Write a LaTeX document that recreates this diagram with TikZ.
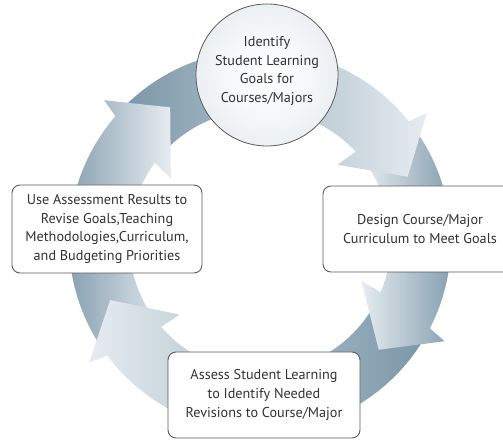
\documentclass[tikz,border=0pt]{standalone}
\usepackage{fontspec}
\setmainfont{PT Sans}
\definecolor{ringdark}{RGB}{122,150,167}
\definecolor{ringlight}{RGB}{230,236,241}
\definecolor{boxline}{RGB}{90,90,90}
\definecolor{txt}{RGB}{50,50,50}
\definecolor{circout}{RGB}{205,217,226}
\pgfdeclareradialshading{circshade}{\pgfpoint{0bp}{0bp}}{color(0bp)=(white); color(18bp)=(white!75!circout); color(50bp)=(circout)}
\tikzset{
  ringarrow/.style n args={3}{insert path={
    (#1:191pt) arc[start angle=#1, end angle={#3-2.2}, radius=191pt]
    -- ({#3-3.5}:210pt) -- ({#3-17.5}:161pt) -- ({#3+3.5}:109pt)
    -- ({#3+2}:131pt) arc[start angle={#3+2}, end angle=#2, radius=131pt] -- cycle}},
  ringhead/.style={insert path={({#1-3.5}:210pt) -- ({#1-17.5}:161pt) -- ({#1+3.5}:109pt) -- cycle}},
  darkleft/.style={left color=ringdark, right color=ringlight},
  darkright/.style={left color=ringlight, right color=ringdark}
}
\begin{document}
\begin{tikzpicture}[x=1pt,y=1pt,
  stagebox/.style={draw=boxline, line width=0.9pt, fill=white, rounded corners=8pt,
    align=center, text=txt, inner sep=0pt, font=\fontsize{14.2}{18.7}\selectfont},
  stagetext/.style={align=center, text=txt, inner sep=0pt, font=\fontsize{14.2}{18.7}\selectfont}]
\useasboundingbox (0,0) rectangle (503,439);
\begin{scope}[shift={(260pt,198pt)}]
  \shade[darkleft, ringarrow={136.4}{139.4}{41}];
  \shade[darkleft, ringarrow={-146}{-143}{-218.6}];
  \shade[darkright, ringarrow={-30}{-27}{-141}];
  \shade[darkright, ringarrow={36}{39}{-25}];
  \begin{scope}
    \clip[ringhead=41];
    \shade[darkleft, ringarrow={136.4}{139.4}{41}];
  \end{scope}
\end{scope}
\node[circle, minimum size=142pt, draw=boxline, line width=0.8pt,
  shading=circshade] (goal) at (267,364) {};
\node[stagetext] (goaltext) at (267,368) {Identify\\Student Learning\\Goals for\\Courses/Majors};
\node[stagebox, minimum width=194pt, minimum height=86pt] (design) at (420,210)
  {Design Course/Major\\Curriculum to Meet Goals};
\node[stagebox, minimum width=192pt, minimum height=86pt] (assess) at (264,44)
  {Assess Student Learning\\to Identify Needed\\Revisions to Course/Major};
\node[stagebox, minimum width=190pt, minimum height=88pt] (revise) at (107,210)
  {Use Assessment Results to\\Revise Goals,Teaching\\Methodologies,Curriculum,\\and Budgeting Priorities};
\end{tikzpicture}
\end{document}
